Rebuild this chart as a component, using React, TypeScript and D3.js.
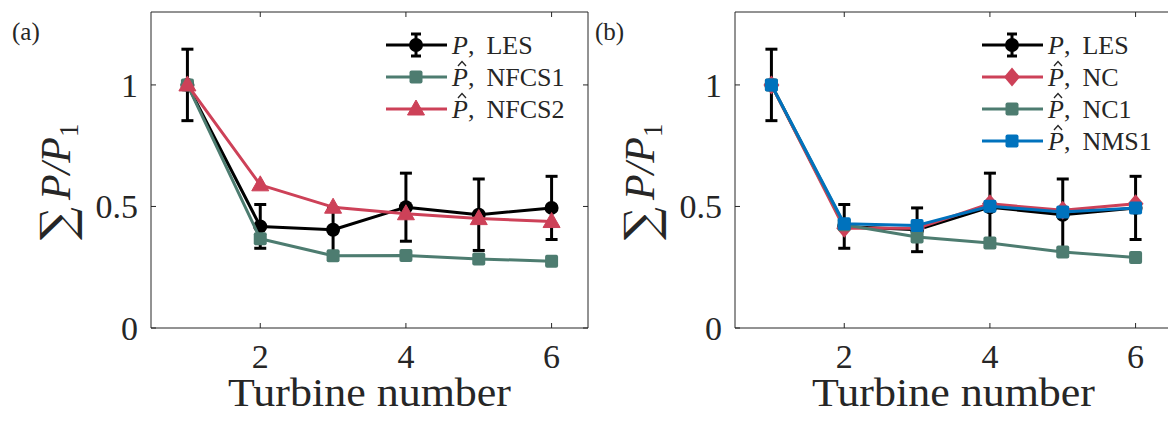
import React from "react";
import * as d3 from "d3";

const turbines = [1, 2, 3, 4, 5, 6];
const lesMean = [1.0, 0.418, 0.404, 0.497, 0.466, 0.494];
const lesErr = [0.147, 0.09, 0.09, 0.14, 0.147, 0.13];
const nfcs1 = [1.0, 0.367, 0.297, 0.298, 0.284, 0.275];
const nfcs2 = [1.0, 0.589, 0.497, 0.47, 0.45, 0.438];
const nc = [1.0, 0.41, 0.41, 0.511, 0.484, 0.511];
const nc1 = [1.0, 0.425, 0.374, 0.35, 0.313, 0.29];
const nms1 = [1.0, 0.429, 0.422, 0.501, 0.477, 0.494];
const xTicks = [2, 4, 6];
const yTicks = [0, 0.5, 1];
const yTickLabels = ["0", "0.5", "1"];

const BLACK = "#000000";
const RED = "#cd4158";
const TEAL = "#4d7c70";
const BLUE = "#0072bd";
const AX = "#262626";
const SERIF = "'Liberation Serif', 'DejaVu Serif', serif";

type Shape = "circle" | "square" | "triangle" | "diamond";
type Series = { name: string; hat: boolean; values: number[]; color: string; shape: Shape; err?: number[] };

function Marker({ shape, cx, cy, color }: { shape: Shape; cx: number; cy: number; color: string }) {
  if (shape === "circle") return <circle cx={cx} cy={cy} r={7} fill={color} />;
  if (shape === "square") return <rect x={cx - 6.5} y={cy - 6.5} width={13} height={13} rx={2} fill={color} />;
  if (shape === "triangle")
    return <polygon points={`${cx},${cy - 9} ${cx - 8.5},${cy + 6} ${cx + 8.5},${cy + 6}`} fill={color} stroke={color} strokeWidth={1} strokeLinejoin="round" />;
  return <polygon points={`${cx},${cy - 9.5} ${cx + 8},${cy} ${cx},${cy + 9.5} ${cx - 8},${cy}`} fill={color} />;
}

function Panel({ x0, x1, y0, y1, series, legendX, label, labelX, rightBorder }: {
  x0: number; x1: number; y0: number; y1: number; series: Series[]; legendX: number; label: string; labelX: number; rightBorder: boolean;
}) {
  const xs = d3.scaleLinear().domain([0.5, 6.5]).range([x0, x1]);
  const ys = d3.scaleLinear().domain([0, 1.3]).range([y1, y0]);
  const line = d3.line<number>().x((_, i) => xs(turbines[i])).y((d) => ys(d));
  const tl = 5;
  const xr = Math.min(x1, 1168);
  return (
    <g>
      <line x1={x0} y1={y0} x2={x0} y2={y1} stroke={AX} strokeWidth={1} />
      <line x1={x0} y1={y1} x2={xr} y2={y1} stroke={AX} strokeWidth={1} />
      <line x1={x0} y1={y0} x2={xr} y2={y0} stroke={AX} strokeWidth={1} />
      {rightBorder && <line x1={x1} y1={y0} x2={x1} y2={y1} stroke={AX} strokeWidth={1} />}
      {xTicks.map((t) => (
        <g key={"xt" + t}>
          <line x1={xs(t)} x2={xs(t)} y1={y1} y2={y1 - tl} stroke={AX} />
          <line x1={xs(t)} x2={xs(t)} y1={y0} y2={y0 + tl} stroke={AX} />
          <text x={xs(t)} y={368} fontFamily={SERIF} fontSize={34} textAnchor="middle" fill={AX}>{t}</text>
        </g>
      ))}
      {yTicks.map((t, i) => (
        <g key={"yt" + t}>
          <line x1={x0} x2={x0 + tl} y1={ys(t)} y2={ys(t)} stroke={AX} />
          {rightBorder && <line x1={x1} x2={x1 - tl} y1={ys(t)} y2={ys(t)} stroke={AX} />}
          <text x={x0 - 13} y={ys(t)} dy="0.35em" fontFamily={SERIF} fontSize={34} textAnchor="end" fill={AX}>{yTickLabels[i]}</text>
        </g>
      ))}
      <text x={(x0 + x1) / 2} y={406} fontFamily={SERIF} fontSize={40} textAnchor="middle" fill={AX} textLength={283} lengthAdjust="spacingAndGlyphs">Turbine number</text>
      <g transform={`translate(${x0 - 81},${240}) rotate(-90)`} fill={AX}>
        <text x={0} y={3} fontFamily="'DejaVu Serif', serif" fontSize={46}>∑</text>
        <text x={40} y={0} fontFamily={SERIF} fontSize={42} fontStyle="italic">P/P<tspan fontSize={27} fontStyle="normal" dy={8}>1</tspan></text>
      </g>
      <text x={labelX} y={40} fontFamily={SERIF} fontSize={25} fill={AX}>{label}</text>
      {series.map((s) => (
        <g key={s.name}>
          <path d={line(s.values) || ""} fill="none" stroke={s.color} strokeWidth={3} strokeLinejoin="round" />
          {s.err && s.err.map((e, i) => (
            <g key={"e" + i} stroke={s.color} strokeWidth={3}>
              <line x1={xs(turbines[i])} x2={xs(turbines[i])} y1={ys(s.values[i] - e)} y2={ys(s.values[i] + e)} />
              <line x1={xs(turbines[i]) - 6} x2={xs(turbines[i]) + 6} y1={ys(s.values[i] - e)} y2={ys(s.values[i] - e)} />
              <line x1={xs(turbines[i]) - 6} x2={xs(turbines[i]) + 6} y1={ys(s.values[i] + e)} y2={ys(s.values[i] + e)} />
            </g>
          ))}
          {s.values.map((v, i) => (
            <Marker key={"m" + i} shape={s.shape} cx={xs(turbines[i])} cy={ys(v)} color={s.color} />
          ))}
        </g>
      ))}
      {series.map((s, i) => {
        const ly = 45 + i * 32;
        const mx = legendX + 30;
        const hx = legendX + 76;
        return (
          <g key={"lg" + s.name}>
            <line x1={legendX} x2={legendX + 61} y1={ly} y2={ly} stroke={s.color} strokeWidth={3} />
            {s.err && (
              <g stroke={s.color} strokeWidth={3}>
                <line x1={mx} x2={mx} y1={ly - 11} y2={ly + 11} />
                <line x1={mx - 5} x2={mx + 5} y1={ly - 11} y2={ly - 11} />
                <line x1={mx - 5} x2={mx + 5} y1={ly + 11} y2={ly + 11} />
              </g>
            )}
            <Marker shape={s.shape} cx={mx} cy={ly} color={s.color} />
            {s.hat && <path d={`M${hx - 4},${ly - 11} L${hx},${ly - 15.5} L${hx + 4},${ly - 11}`} fill="none" stroke={AX} strokeWidth={1.3} />}
            <text x={legendX + 66} y={ly + 9} fontFamily={SERIF} fontSize={26} fill={AX}>
              <tspan fontStyle="italic">P</tspan>
              <tspan>,</tspan>
              <tspan dx={12}>{s.name}</tspan>
            </text>
          </g>
        );
      })}
    </g>
  );
}

export default function App() {
  const seriesA: Series[] = [
    { name: "LES", hat: false, values: lesMean, err: lesErr, color: BLACK, shape: "circle" },
    { name: "NFCS1", hat: true, values: nfcs1, color: TEAL, shape: "square" },
    { name: "NFCS2", hat: true, values: nfcs2, color: RED, shape: "triangle" },
  ];
  const seriesB: Series[] = [
    { name: "LES", hat: false, values: lesMean, err: lesErr, color: BLACK, shape: "circle" },
    { name: "NC", hat: true, values: nc, color: RED, shape: "diamond" },
    { name: "NC1", hat: true, values: nc1, color: TEAL, shape: "square" },
    { name: "NMS1", hat: true, values: nms1, color: BLUE, shape: "square" },
  ];
  return (
    <svg width={1168} height={423} style={{ position: "absolute", left: 0, top: 0, background: "#fff" }}>
      <rect width={1168} height={423} fill="#fff" />
      <Panel x0={151} x1={588} y0={12} y1={328} series={seriesA} legendX={386} label="(a)" labelX={12} rightBorder={true} />
      <Panel x0={735} x1={1172} y0={12} y1={328} series={seriesB} legendX={982} label="(b)" labelX={595} rightBorder={false} />
    </svg>
  );
}
